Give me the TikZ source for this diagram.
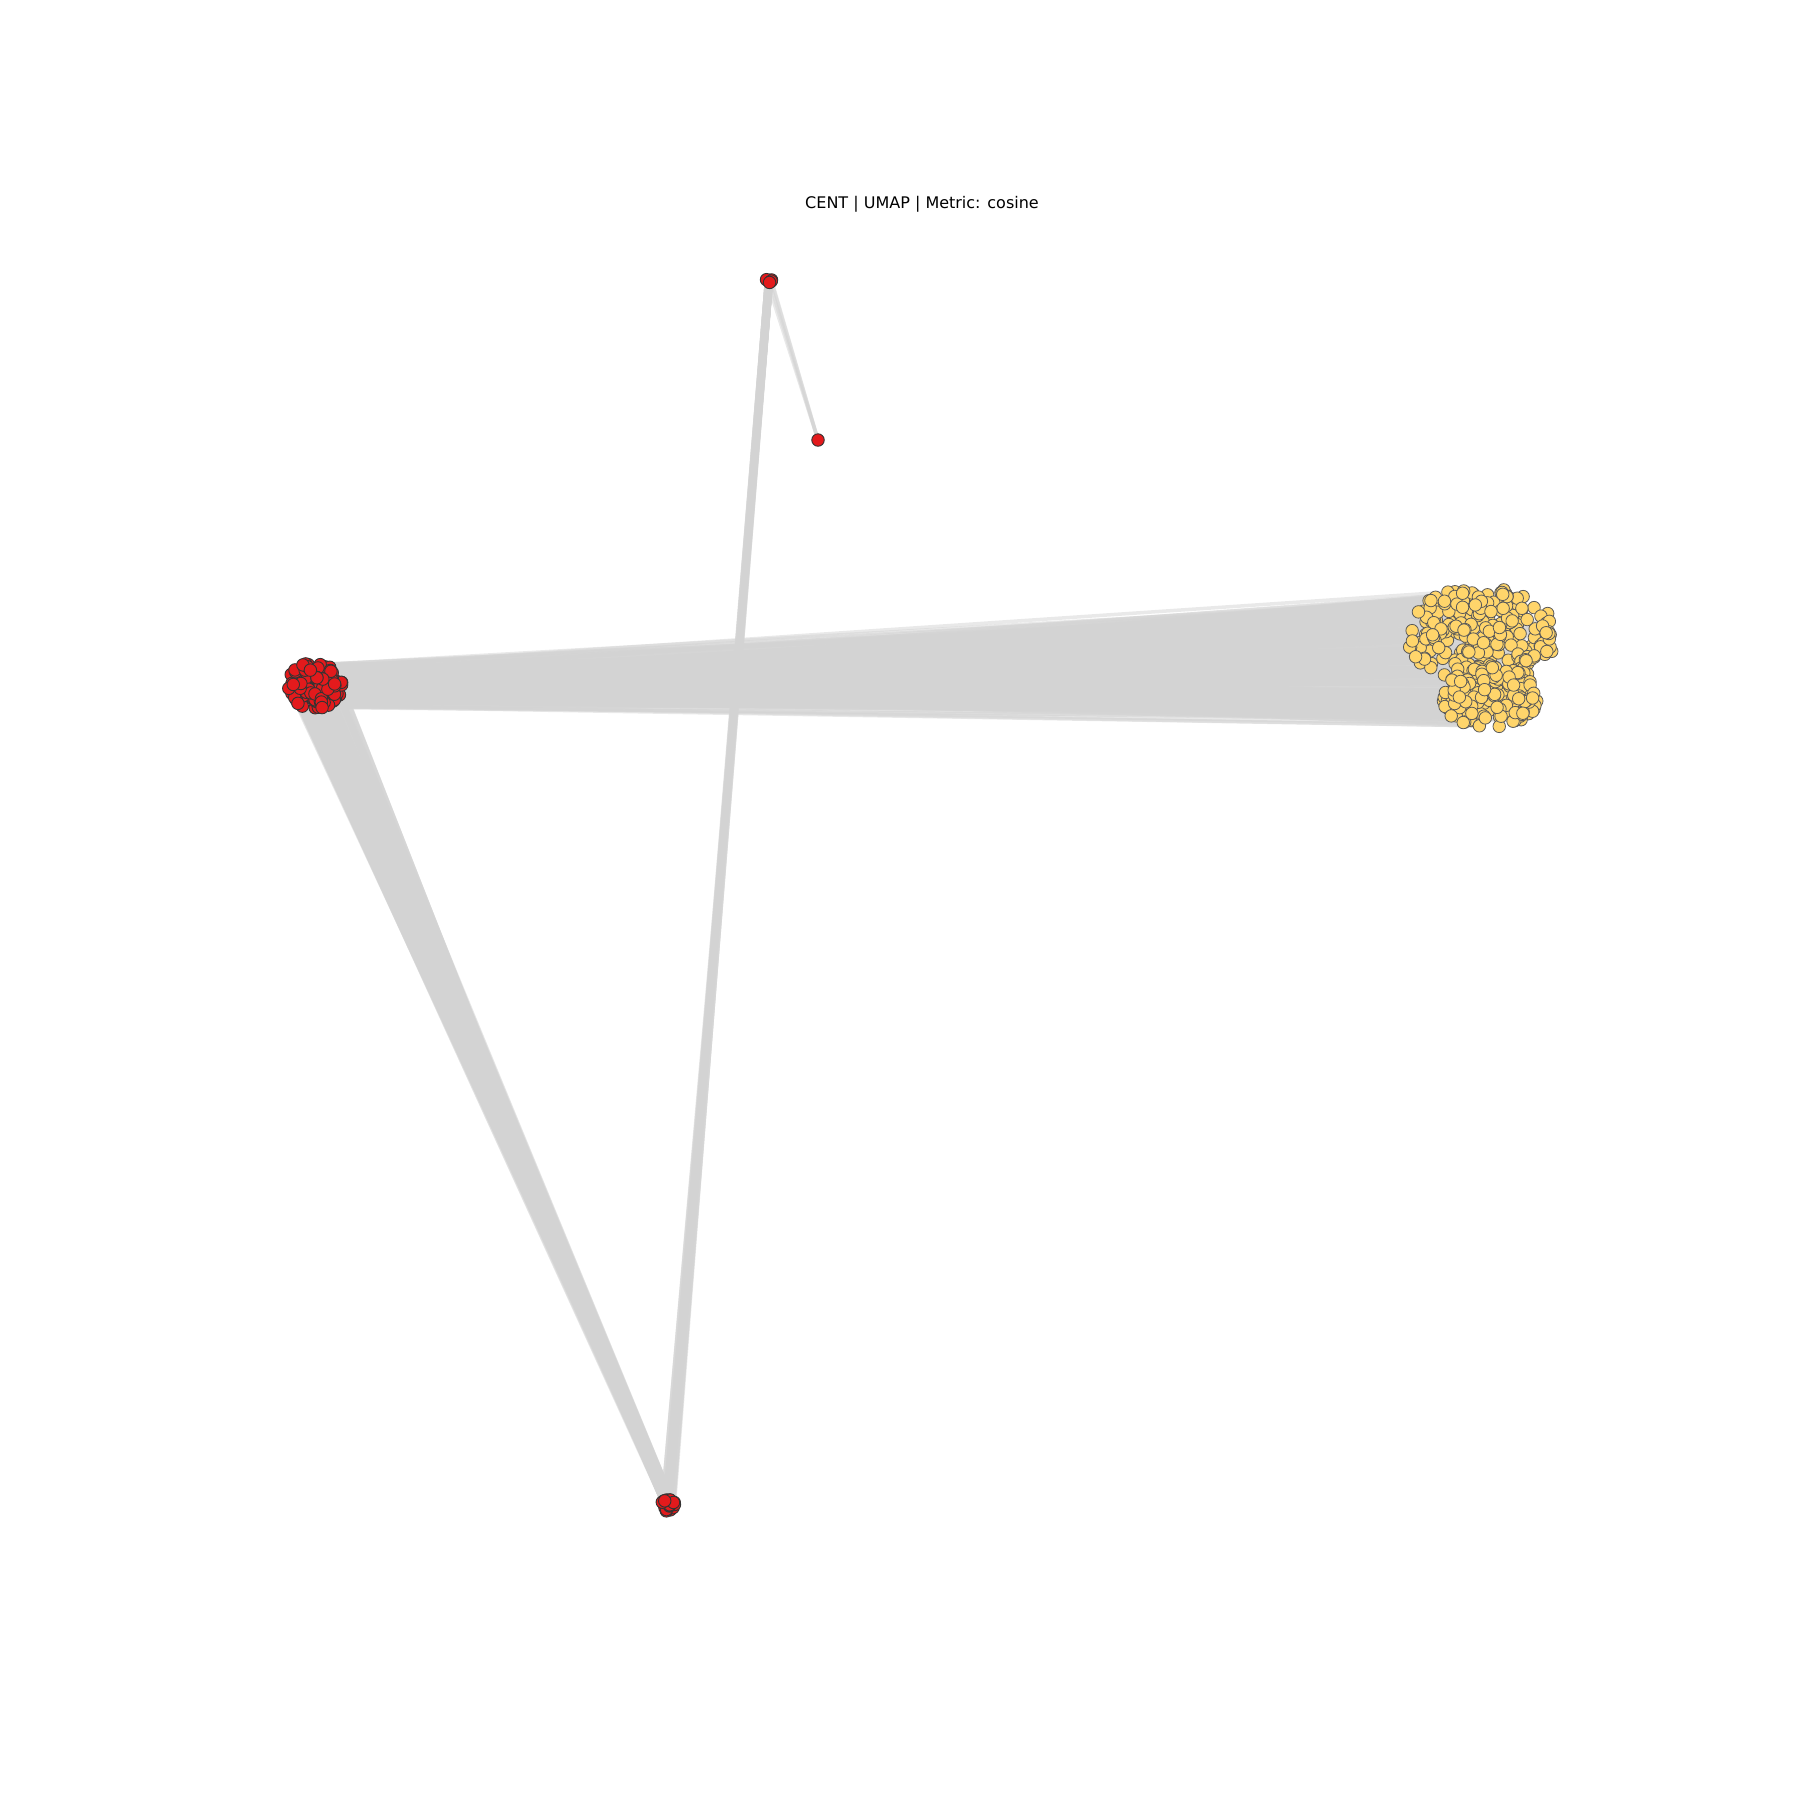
\documentclass[tikz,border=0pt]{standalone}
\usepackage{fontspec}
\setmainfont{DejaVu Sans}
\usetikzlibrary{backgrounds}

\definecolor{nodered}{HTML}{E31A1C}
\definecolor{nodeyellow}{HTML}{FFD56B}
\definecolor{edgegray}{HTML}{D3D3D3}

\begin{document}
\begin{tikzpicture}[x=1pt, y=-1pt,
	rnode/.style={draw=black!80, line width=0.9pt, circle, fill=nodered, minimum size=12.5pt, inner sep=0pt},
	ynode/.style={draw=black!65, line width=0.8pt, circle, fill=nodeyellow, minimum size=12.5pt, inner sep=0pt},
	link/.style={draw=edgegray, line width=3.5pt, opacity=0.5}]
	\useasboundingbox (0,0) rectangle (1800,1800);
	\node[font=\fontsize{16}{19}\selectfont] (title) at (922,204) {CENT | UMAP | Metric: cosine};
	\pgfmathsetseed{42}
	\foreach \i in {1,...,120} {
		\pgfmathsetmacro\ang{360*rnd}
		\pgfmathsetmacro\rad{sqrt(rnd)}
		\node[rnode] (l\i) at ({315+27*\rad*cos(\ang)}, {685+24*\rad*sin(\ang)}) {};
	}
	\foreach \i in {1,...,260} {
		\pgfmathsetmacro\ang{360*rnd}
		\pgfmathsetmacro\rad{sqrt(rnd)}
		\node[ynode] (y\i) at ({1481+75*\rad*cos(\ang)}, {636+50*\rad*sin(\ang)}) {};
	}
	\foreach \i in {261,...,410} {
		\pgfmathsetmacro\ang{360*rnd}
		\pgfmathsetmacro\rad{sqrt(rnd)}
		\node[ynode] (y\i) at ({1490+47*\rad*cos(\ang)}, {698+32*\rad*sin(\ang)}) {};
	}
	\foreach \i in {1,...,25} {
		\pgfmathsetmacro\ang{360*rnd}
		\pgfmathsetmacro\rad{sqrt(rnd)}
		\node[rnode] (b\i) at ({668+7*\rad*cos(\ang)}, {1505+6*\rad*sin(\ang)}) {};
	}
	\foreach \i in {1,...,4} {
		\pgfmathsetmacro\ang{360*rnd}
		\node[rnode] (t\i) at ({769+2.5*cos(\ang)}, {280+2.5*sin(\ang)}) {};
	}
	\node[rnode] (s) at (818,440) {};
	\begin{scope}[on background layer]
		\foreach \k in {1,...,450} {
			\pgfmathtruncatemacro\p{random(1,120)}
			\pgfmathtruncatemacro\q{random(1,410)}
			\draw[link] (l\p) -- (y\q);
		}
		\foreach \k in {1,...,220} {
			\pgfmathtruncatemacro\p{random(1,120)}
			\pgfmathtruncatemacro\q{random(1,25)}
			\draw[link] (l\p) -- (b\q);
		}
		\foreach \k in {1,...,40} {
			\pgfmathtruncatemacro\p{random(1,25)}
			\pgfmathtruncatemacro\q{random(1,4)}
			\draw[link] (b\p) -- (t\q);
		}
		\foreach \k in {1,...,4} {
			\draw[link] (t\k) -- (s);
		}
	\end{scope}
\end{tikzpicture}
\end{document}
